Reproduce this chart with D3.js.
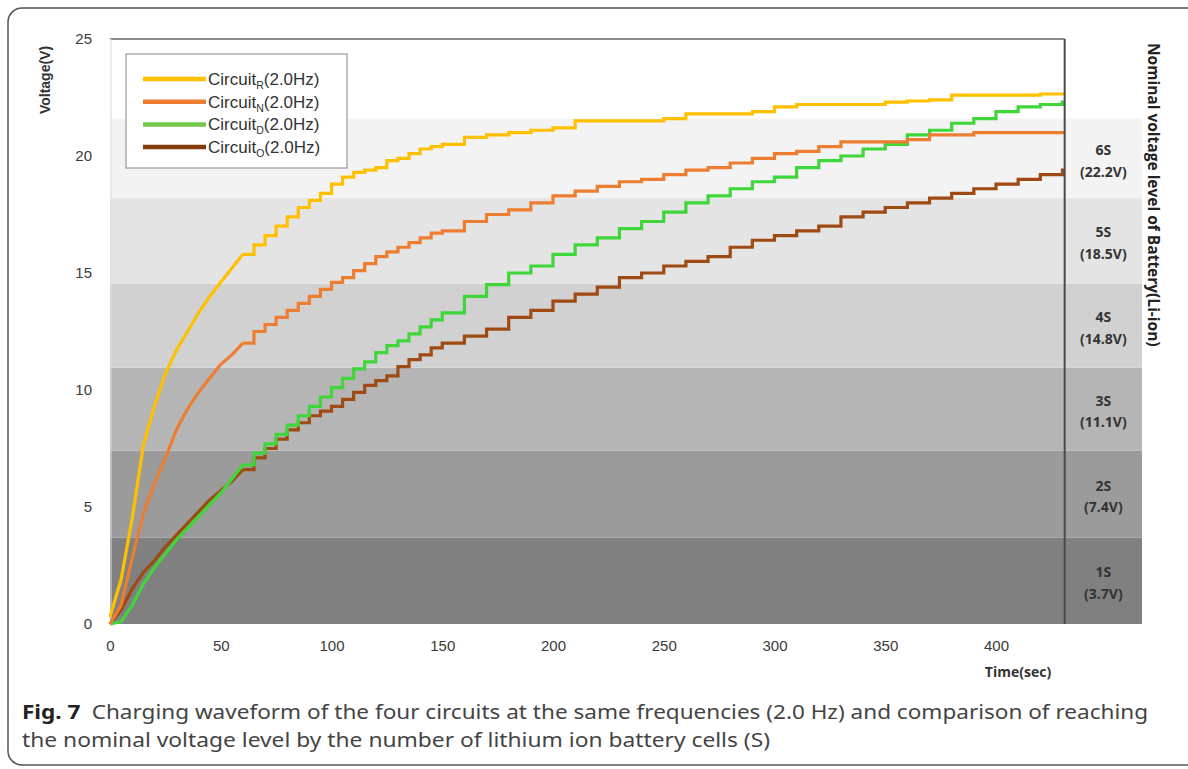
<!DOCTYPE html>
<meta charset="utf-8">
<style>
body { margin: 0; background: #fff; }
text { font-family: Arial, "Liberation Sans", sans-serif; }
.tick text { font-size: 15px; fill: #3a3a3a; }
.caption { font-family: "Noto Sans", "Open Sans", sans-serif; font-size: 19.5px; fill: #444; }
.line { fill: none; stroke-width: 3.2px; stroke-linejoin: miter; }
</style>
<body>
<script src="https://cdn.jsdelivr.net/npm/d3@7/dist/d3.min.js"></script>
<script>

// time samples (sec)
var times = [0,5,10,15,20,25,30,35,40,45,50,55,60,65,70,75,80,85,90,95,100,105,110,115,120,125,130,135,140,145,150,
  160,170,180,190,200,210,220,230,240,250,260,270,280,290,300,310,320,330,340,350,360,370,380,390,400,410,420,430];

// voltages
var circuitR = [0.3,1.9,4.5,7.6,9.3,10.7,11.7,12.5,13.3,14.0,14.6,15.2,15.8,16.2,16.6,17.0,17.4,17.8,18.1,18.4,18.8,19.1,19.3,19.4,19.5,19.8,19.9,20.1,20.3,20.4,20.5,
  20.8,20.9,21.0,21.1,21.2,21.5,21.5,21.5,21.5,21.6,21.8,21.8,21.8,21.9,22.1,22.2,22.2,22.2,22.2,22.3,22.35,22.4,22.6,22.6,22.6,22.6,22.65,22.65];
var circuitN = [0,0.8,2.8,4.7,6.0,7.1,8.3,9.2,9.9,10.5,11.1,11.5,12.0,12.5,12.8,13.1,13.4,13.7,14.0,14.3,14.6,14.8,15.1,15.4,15.7,15.9,16.1,16.3,16.5,16.7,16.8,
  17.2,17.5,17.7,18.0,18.3,18.5,18.7,18.9,19.0,19.2,19.4,19.5,19.7,19.9,20.1,20.2,20.4,20.6,20.6,20.6,20.7,20.9,20.9,21.0,21.0,21.0,21.0,21.0];
var circuitD = [0,0.1,0.8,1.7,2.4,3.0,3.6,4.1,4.6,5.1,5.6,6.2,6.8,7.3,7.7,8.1,8.5,8.9,9.3,9.7,10.1,10.5,10.9,11.2,11.6,11.9,12.1,12.4,12.7,13.0,13.3,
  14.0,14.5,15.0,15.3,15.8,16.2,16.5,16.9,17.2,17.6,18.0,18.3,18.6,18.9,19.1,19.5,19.8,20.0,20.3,20.5,20.9,21.1,21.4,21.6,21.9,22.1,22.2,22.3];
var circuitO = [0,0.6,1.5,2.2,2.7,3.3,3.8,4.3,4.8,5.3,5.7,6.1,6.6,7.1,7.5,7.9,8.3,8.6,8.9,9.1,9.3,9.6,9.9,10.2,10.4,10.6,11.0,11.3,11.5,11.8,12.0,
  12.3,12.6,13.1,13.4,13.8,14.1,14.4,14.8,15.0,15.3,15.5,15.7,16.1,16.4,16.6,16.8,17.0,17.4,17.6,17.8,18.0,18.2,18.4,18.6,18.8,19.0,19.2,19.4];

var seriesSubs = ["R", "N", "D", "O"];
var seriesColors = ["#ffc000", "#ed7d31", "#3fd63a", "#9e4a12"];
var legendColors = ["#ffc000", "#ed7d31", "#72c84a", "#843c0c"];

// nominal voltage bands (as drawn in the picture)
var bandEdges = [0, 3.7, 7.4, 10.95, 14.55, 18.2, 21.6];
var bandNames = ["1S", "2S", "3S", "4S", "5S", "6S"];
var bandVolts = ["(3.7V)", "(7.4V)", "(11.1V)", "(14.8V)", "(18.5V)", "(22.2V)"];
var bandFills = ["#808080", "#9b9b9b", "#b5b5b5", "#d1d1d1", "#e4e4e4", "#f3f3f3"];

var xTicks = [0, 50, 100, 150, 200, 250, 300, 350, 400];
var yTicks = [0, 5, 10, 15, 20, 25];
var tEnd = 431;
var tStep = 60;   // from here on the traces are drawn as stairs

var W = 1188, H = 769;
var x = d3.scaleLinear().domain([0, 400]).range([110, 996]);
var y = d3.scaleLinear().domain([0, 25]).range([624, 39]);
var xRight = x.invert(1142);

var svg = d3.select("body").append("svg")
    .attr("width", W)
    .attr("height", H);

// outer frame
svg.append("rect")
    .attr("x", 8).attr("y", 8)
    .attr("width", 1200).attr("height", 757)
    .attr("rx", 14)
    .attr("fill", "#fff")
    .attr("stroke", "#555")
    .attr("stroke-width", 1.5);

// bands
svg.selectAll(".band")
    .data(bandNames)
  .enter().append("rect")
    .attr("class", "band")
    .attr("x", x(0))
    .attr("width", x(xRight) - x(0))
    .attr("y", function(d, i) { return y(bandEdges[i + 1]); })
    .attr("height", function(d, i) { return y(bandEdges[i]) - y(bandEdges[i + 1]); })
    .attr("fill", function(d, i) { return bandFills[i]; });

// band labels
var bl = svg.selectAll(".blabel")
    .data(bandNames)
  .enter().append("text")
    .attr("class", "blabel")
    .attr("text-anchor", "middle")
    .style("font-family", "'Open Sans', 'Noto Sans', sans-serif")
    .style("font-size", "14px")
    .style("font-weight", "bold")
    .style("fill", "#333")
    .attr("transform", function(d, i) {
      var c = (y(bandEdges[i]) + y(bandEdges[i + 1])) / 2;
      return "translate(" + (x(tEnd) + x(xRight)) / 2 + "," + c + ")";
    });
bl.append("tspan").attr("x", 0).attr("dy", "-0.25em").text(function(d) { return d; });
bl.append("tspan").attr("x", 0).attr("dy", "1.55em").text(function(d, i) { return bandVolts[i]; });

// plot frame: top and left light, right dark
svg.append("line")
    .attr("x1", x(0)).attr("x2", x(tEnd))
    .attr("y1", y(25)).attr("y2", y(25))
    .attr("stroke", "#666").attr("stroke-width", 1.5);
svg.append("line")
    .attr("x1", x(0) + 1).attr("x2", x(0) + 1)
    .attr("y1", y(25)).attr("y2", y(0))
    .attr("stroke", "#ddd").attr("stroke-width", 1);

// series: smooth rise first, then stair steps
var lineRise = d3.line()
    .x(function(d) { return x(d[0]); })
    .y(function(d) { return y(d[1]); });
var lineStair = d3.line()
    .curve(d3.curveStepAfter)
    .x(function(d) { return x(d[0]); })
    .y(function(d) { return y(d[1]); });

[circuitR, circuitN, circuitD, circuitO].slice().reverse().forEach(function(vals, k) {
  var i = 3 - k;
  var data = times.map(function(t, j) { return [t, vals[j]]; });
  var rise = data.filter(function(d) { return d[0] <= tStep; });
  var stair = data.filter(function(d) { return d[0] >= tStep; });
  stair.push([tEnd, stair[stair.length - 1][1]]);
  svg.append("path")
      .datum(rise)
      .attr("class", "line")
      .style("stroke", seriesColors[i])
      .attr("d", lineRise);
  svg.append("path")
      .datum(stair)
      .attr("class", "line")
      .style("stroke", seriesColors[i])
      .attr("d", lineStair);
});

svg.append("line")
    .attr("x1", x(tEnd)).attr("x2", x(tEnd))
    .attr("y1", y(25)).attr("y2", y(0))
    .attr("stroke", "#4a4a4a").attr("stroke-width", 2);

// axes (labels only)
var xAxis = svg.append("g")
    .attr("transform", "translate(0," + y(0) + ")")
    .call(d3.axisBottom(x).tickValues(xTicks).tickSize(0).tickPadding(16));
xAxis.select(".domain").remove();

var yAxis = svg.append("g")
    .attr("transform", "translate(" + (x(0) - 18) + ",0)")
    .call(d3.axisLeft(y).tickValues(yTicks).tickSize(0).tickPadding(0));
yAxis.select(".domain").remove();

svg.append("text")
    .attr("transform", "translate(50,80) rotate(-90)")
    .attr("text-anchor", "middle")
    .style("font-size", "14px")
    .style("font-weight", "bold")
    .style("fill", "#333")
    .text("Voltage(V)");

svg.append("text")
    .attr("x", 1018).attr("y", 677)
    .attr("text-anchor", "middle")
    .style("font-family", "'Open Sans', 'Noto Sans', sans-serif")
    .style("font-size", "14px")
    .style("font-weight", "bold")
    .style("fill", "#333")
    .text("Time(sec)");

svg.append("text")
    .attr("transform", "translate(1148,43) rotate(90)")
    .attr("text-anchor", "start")
    .style("font-family", "'Open Sans', 'Noto Sans', sans-serif")
    .style("font-size", "15.5px")
    .style("font-weight", "bold")
    .style("fill", "#222")
    .text("Nominal voltage level of Battery(Li-ion)");

// legend
var lg = svg.append("g").attr("transform", "translate(126,54)");
lg.append("rect")
    .attr("width", 221).attr("height", 114)
    .attr("fill", "#fff")
    .attr("stroke", "#999").attr("stroke-width", 1.2);
seriesSubs.forEach(function(s, i) {
  var yy = 25 + i * 22.7;
  lg.append("line")
      .attr("x1", 17).attr("x2", 80)
      .attr("y1", yy).attr("y2", yy)
      .attr("stroke", legendColors[i]).attr("stroke-width", 4.5);
  var t = lg.append("text")
      .attr("x", 82).attr("y", yy + 6)
      .style("font-size", "17px")
      .style("fill", "#333");
  t.append("tspan").text("Circuit");
  t.append("tspan").attr("dy", 4).style("font-size", "10.5px").text(s);
  t.append("tspan").attr("dy", -4).text("(2.0Hz)");
});

// caption
var cap1 = svg.append("text")
    .attr("class", "caption")
    .attr("x", 22).attr("y", 719)
    .attr("textLength", 1126)
    .attr("lengthAdjust", "spacingAndGlyphs");
cap1.append("tspan").style("font-weight", "bold").style("fill", "#222").text("Fig. 7");
cap1.append("tspan").text("\u2002Charging waveform of the four circuits at the same frequencies (2.0 Hz) and comparison of reaching");

svg.append("text")
    .attr("class", "caption")
    .attr("x", 22).attr("y", 747)
    .attr("textLength", 748)
    .attr("lengthAdjust", "spacingAndGlyphs")
    .text("the nominal voltage level by the number of lithium ion battery cells (S)");

</script>
</body>
